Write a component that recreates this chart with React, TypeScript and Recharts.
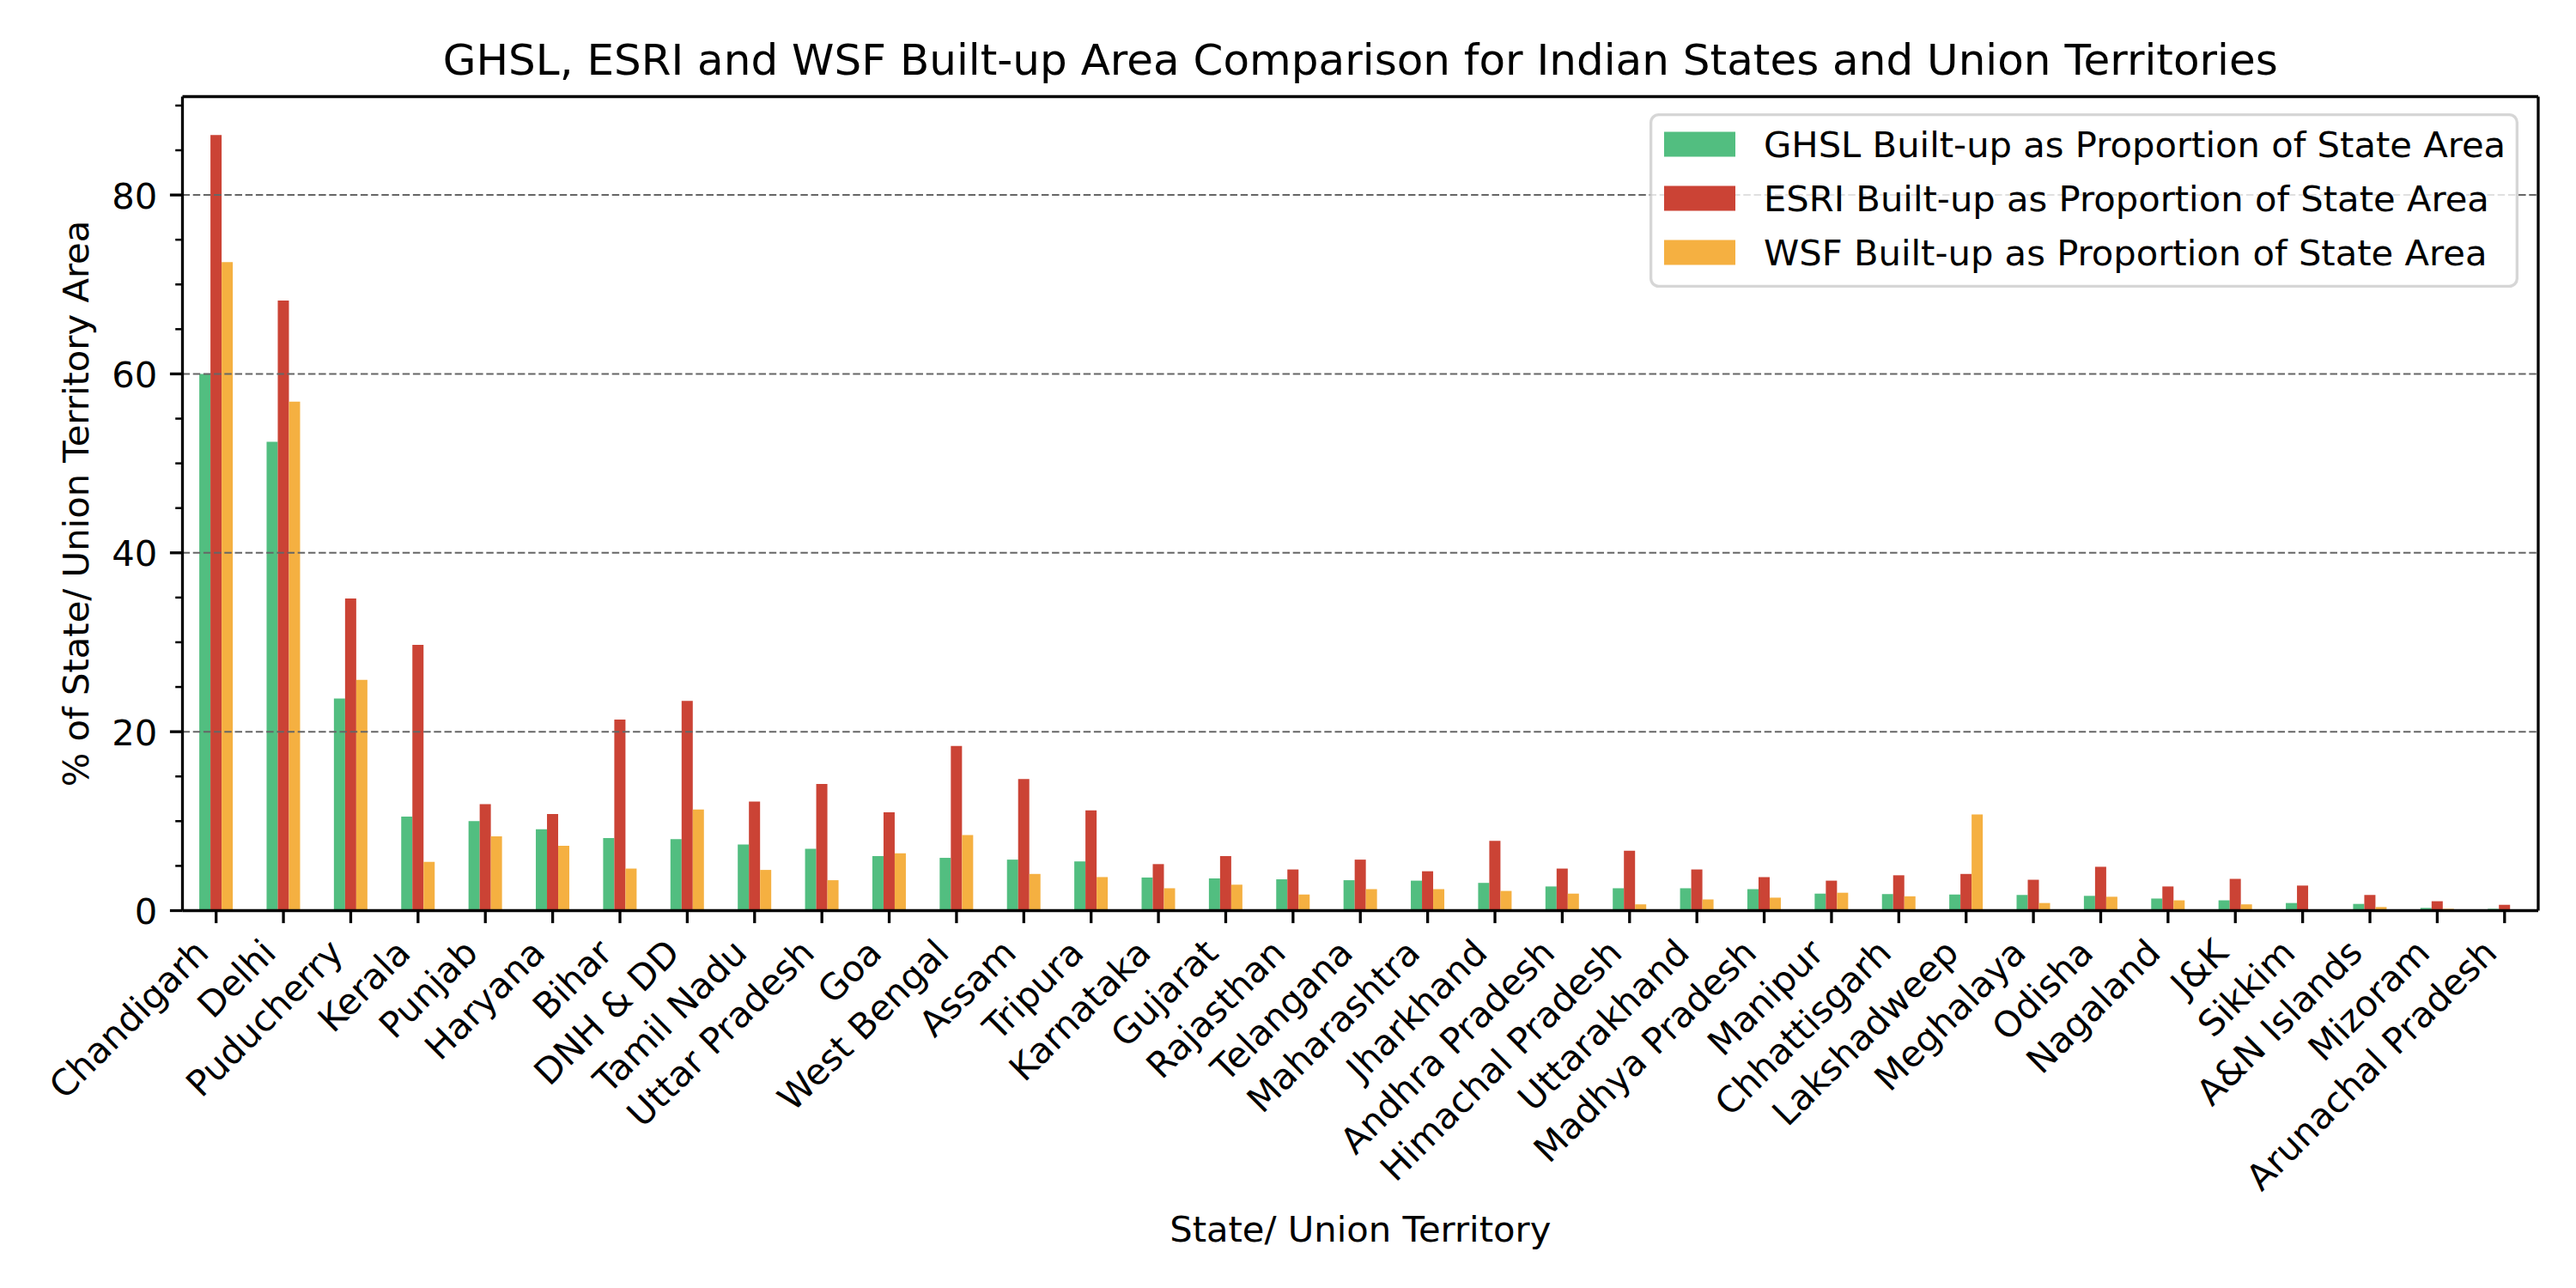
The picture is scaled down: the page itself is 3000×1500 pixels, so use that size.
import React from "react";
import { BarChart, Bar, XAxis, YAxis, ReferenceLine, Legend } from "recharts";

const categories = [
  "Chandigarh", "Delhi", "Puducherry", "Kerala", "Punjab", "Haryana", "Bihar", "DNH & DD",
  "Tamil Nadu", "Uttar Pradesh", "Goa", "West Bengal", "Assam", "Tripura", "Karnataka",
  "Gujarat", "Rajasthan", "Telangana", "Maharashtra", "Jharkhand", "Andhra Pradesh",
  "Himachal Pradesh", "Uttarakhand", "Madhya Pradesh", "Manipur", "Chhattisgarh",
  "Lakshadweep", "Meghalaya", "Odisha", "Nagaland", "J&K", "Sikkim", "A&N Islands",
  "Mizoram", "Arunachal Pradesh",
];

const ghslValues = [
  60.0, 52.4, 23.7, 10.5, 10.0, 9.1, 8.1, 8.0, 7.4, 6.9, 6.1, 5.9, 5.7, 5.5, 3.7,
  3.6, 3.5, 3.4, 3.35, 3.1, 2.7, 2.5, 2.5, 2.4, 1.9, 1.85, 1.8, 1.75, 1.65, 1.35,
  1.15, 0.85, 0.75, 0.3, 0.2,
];

const esriValues = [
  86.7, 68.2, 34.9, 29.7, 11.9, 10.8, 21.35, 23.45, 12.2, 14.15, 11.0, 18.4, 14.7, 11.2, 5.2,
  6.1, 4.6, 5.7, 4.4, 7.8, 4.7, 6.7, 4.6, 3.75, 3.35, 3.95, 4.1, 3.45, 4.9, 2.7,
  3.55, 2.8, 1.75, 1.05, 0.65,
];

const wsfValues = [
  72.5, 56.9, 25.8, 5.45, 8.3, 7.25, 4.7, 11.3, 4.55, 3.4, 6.4, 8.45, 4.1, 3.75, 2.5,
  2.9, 1.8, 2.4, 2.4, 2.2, 1.9, 0.7, 1.25, 1.45, 2.0, 1.6, 10.75, 0.85, 1.55, 1.15,
  0.7, 0, 0.4, 0.2, 0.1,
];

const seriesNames = [
  "GHSL Built-up as Proportion of State Area",
  "ESRI Built-up as Proportion of State Area",
  "WSF Built-up as Proportion of State Area",
];
const seriesColors = ["#52BE80", "#CB4335", "#F5B041"];

const yTicks = [0, 5, 10, 15, 20, 25, 30, 35, 40, 45, 50, 55, 60, 65, 70, 75, 80, 85, 90];
const yMajorTicks = [0, 20, 40, 60, 80];
const gridValues = [20, 40, 60, 80];

const titleText = "GHSL, ESRI and WSF Built-up Area Comparison for Indian States and Union Territories";
const xLabelText = "State/ Union Territory";
const yLabelText = "% of State/ Union Territory Area";

const data = categories.map((name, i) => ({
  name,
  ghsl: ghslValues[i],
  esri: esriValues[i],
  wsf: wsfValues[i],
}));

const FONT = "'DejaVu Sans', sans-serif";
const FS = 41.7;
const TICK_LEN = 14.6;
const TICK_PAD = 14.6;
const SPINE_W = 3.3;

const XTick = (props: any) => {
  const { x, y, payload } = props;
  const axisY = y - TICK_LEN - TICK_PAD;
  const ax = x - 6.5;
  const ay = y + 22.4;
  return (
    <g>
      <line x1={x} x2={x} y1={axisY} y2={axisY + TICK_LEN} stroke="#000" strokeWidth={SPINE_W} />
      <text
        x={ax}
        y={ay}
        transform={`rotate(-45, ${ax}, ${ay})`}
        textAnchor="end"
        fontFamily={FONT}
        fontSize={FS}
        fill="#000"
      >
        {payload.value}
      </text>
    </g>
  );
};

const YTick = (props: any) => {
  const { x, y, payload } = props;
  const axisX = x + TICK_LEN + TICK_PAD;
  const major = yMajorTicks.includes(payload.value);
  const len = major ? TICK_LEN : 8.3;
  return (
    <g>
      <line x1={axisX - len} x2={axisX} y1={y} y2={y} stroke="#000" strokeWidth={major ? SPINE_W : 2.5} />
      {major && (
        <text x={x} y={y} dy="0.37em" textAnchor="end" fontFamily={FONT} fontSize={FS} fill="#000">
          {payload.value}
        </text>
      )}
    </g>
  );
};

const TitleLabel = (props: any) => {
  const vb = props.viewBox;
  return (
    <text x={vb.x + vb.width / 2} y={vb.y + vb.height - 25.5} textAnchor="middle" fontFamily={FONT} fontSize={50} fill="#000">
      {titleText}
    </text>
  );
};

const XLabel = (props: any) => {
  const vb = props.viewBox;
  return (
    <text x={vb.x + vb.width / 2} y={vb.y + 385} textAnchor="middle" fontFamily={FONT} fontSize={FS} fill="#000">
      {xLabelText}
    </text>
  );
};

const YLabel = (props: any) => {
  const vb = props.viewBox;
  const lx = vb.x - 9.5;
  const ly = vb.y + vb.height / 2;
  return (
    <text
      x={lx}
      y={ly}
      transform={`rotate(-90, ${lx}, ${ly})`}
      textAnchor="middle"
      fontFamily={FONT}
      fontSize={FS}
      fill="#000"
    >
      {yLabelText}
    </text>
  );
};

const LegendBox = (props: any) => {
  const raw = props.payload || [];
  const payload = seriesNames
    .map((n) => raw.find((p: any) => p.value === n))
    .filter(Boolean);
  const W = 1012;
  const H = 203;
  const centers = [36, 99, 162];
  return (
    <svg width={W} height={H} style={{ display: "block" }}>
      <rect
        x={1.65}
        y={1.65}
        width={W - 3.3}
        height={H - 3.3}
        rx={9}
        ry={9}
        fill="#ffffff"
        fillOpacity={0.8}
        stroke="#cccccc"
        strokeOpacity={0.8}
        strokeWidth={3.3}
      />
      {payload.map((p: any, i: number) => (
        <g key={p.value}>
          <rect x={17} y={centers[i] - 14.5} width={83} height={29} fill={p.color} />
          <text x={133} y={centers[i] + 14.5} fontFamily={FONT} fontSize={FS} fill="#000">
            {p.value}
          </text>
        </g>
      ))}
    </svg>
  );
};

export default function App() {
  return (
    <div style={{ position: "absolute", left: 0, top: 0, width: 3000, height: 1500, background: "#fff" }}>
      <BarChart
        width={3000}
        height={1500}
        data={data}
        margin={{ top: 111.5, right: 43, bottom: 389.5, left: 112.5 }}
        barCategoryGap="25%"
        barGap={0}
      >
        <XAxis
          dataKey="name"
          interval={0}
          height={50}
          tickSize={TICK_LEN}
          tickMargin={TICK_PAD}
          tickLine={false}
          tick={<XTick />}
          stroke="#000"
          axisLine={{ stroke: "#000", strokeWidth: SPINE_W }}
          label={XLabel}
        />
        <XAxis
          xAxisId="top"
          dataKey="name"
          orientation="top"
          height={1}
          interval={0}
          tick={false}
          tickLine={false}
          stroke="#000"
          axisLine={{ stroke: "#000", strokeWidth: SPINE_W }}
          label={TitleLabel}
        />
        <YAxis
          type="number"
          domain={[0, 91]}
          ticks={yTicks}
          interval={0}
          width={100}
          tickSize={TICK_LEN}
          tickMargin={TICK_PAD}
          tickLine={false}
          tick={<YTick />}
          stroke="#000"
          axisLine={{ stroke: "#000", strokeWidth: SPINE_W }}
          label={YLabel}
        />
        <YAxis
          yAxisId="right"
          orientation="right"
          type="number"
          domain={[0, 91]}
          ticks={yMajorTicks}
          width={1}
          tick={false}
          tickLine={false}
          stroke="#000"
          axisLine={{ stroke: "#000", strokeWidth: SPINE_W }}
        />
        <Bar dataKey="ghsl" name={seriesNames[0]} fill={seriesColors[0]} isAnimationActive={false} />
        <Bar dataKey="esri" name={seriesNames[1]} fill={seriesColors[1]} isAnimationActive={false} />
        <Bar dataKey="wsf" name={seriesNames[2]} fill={seriesColors[2]} isAnimationActive={false} />
        {gridValues.map((v) => (
          <ReferenceLine key={v} y={v} stroke="#666" strokeWidth={2} strokeDasharray="8.5 3.7" />
        ))}
        <Legend
          layout="vertical"
          align="center"
          verticalAlign="middle"
          content={LegendBox}
          wrapperStyle={{ left: 1921, top: 132, width: 1012, height: 203 }}
        />
      </BarChart>
    </div>
  );
}
